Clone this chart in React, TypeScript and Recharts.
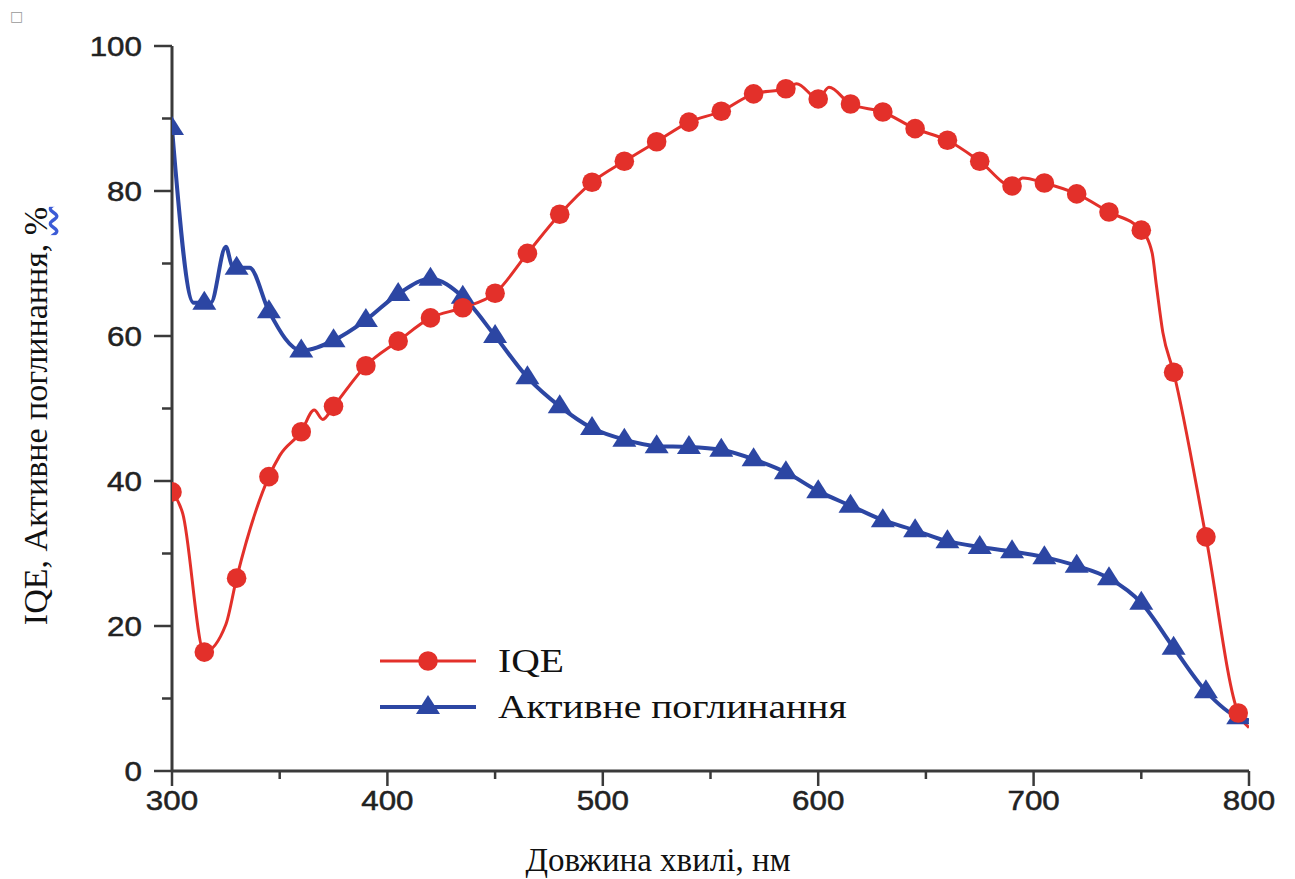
import { LineChart, Line, XAxis, YAxis } from "recharts";

// wavelength of every plotted marker, nm
const wavelengths = [
  300, 315, 330, 345, 360, 375, 390, 405, 420, 435, 450, 465, 480, 495, 510, 525, 540,
  555, 570, 585, 600, 615, 630, 645, 660, 675, 690, 705, 720, 735, 750, 765, 780, 795,
];
const iqeValues = [
  38.5, 16.4, 26.6, 40.6, 46.8, 50.3, 55.9, 59.3, 62.5, 63.9, 65.9, 71.4, 76.8, 81.2, 84.1,
  86.8, 89.5, 91, 93.4, 94.1, 92.7, 92, 90.9, 88.6, 87, 84.1, 80.7, 81.1, 79.6, 77.1, 74.6,
  55, 32.3, 8,
];
const absorptionValues = [
  88.7, 64.6, 69.4, 63.4, 58, 59.4, 62.2, 65.8, 67.9, 65.4, 60, 54.3, 50.3, 47.3, 45.7,
  44.8, 44.7, 44.3, 43, 41.2, 38.6, 36.6, 34.6, 33.2, 31.7, 30.9, 30.3, 29.5, 28.3, 26.6,
  23.2, 17, 11, 7.4,
];

// bends of the curves between markers (no marker drawn there)
const iqeBendX = [305, 325, 350, 366, 370, 590, 605, 695, 755, 757, 760, 800];
const iqeBendY = [35.5, 20.2, 43.5, 49.8, 48.5, 94.8, 94.3, 81.8, 71.5, 67, 60.5, 6];
const absorptionBendX = [310, 318, 325, 328, 336, 800];
const absorptionBendY = [64.6, 64.6, 72.3, 69.6, 69.4, 7];

const xTicks = [300, 350, 400, 450, 500, 550, 600, 650, 700, 750, 800];
const yTicks = [0, 10, 20, 30, 40, 50, 60, 70, 80, 90, 100];

const seriesNames = ["IQE", "Активне поглинання"];

const RED = "#e3302a";
const BLUE = "#2c46a3";
const AXIS = "#3a3a3a";
const SERIF = "'Liberation Serif', 'Times New Roman', serif";

type Pt = { x: number; y: number; marker: boolean };

function buildSeries(mx: number[], my: number[], bx: number[], by: number[]): Pt[] {
  const pts: Pt[] = [
    ...mx.map((x, i) => ({ x, y: my[i], marker: true })),
    ...bx.map((x, i) => ({ x, y: by[i], marker: false })),
  ];
  return pts.sort((a, b) => a.x - b.x);
}

const iqeData = buildSeries(wavelengths, iqeValues, iqeBendX, iqeBendY);
const absorptionData = buildSeries(wavelengths, absorptionValues, absorptionBendX, absorptionBendY);

const tickFont = {
  fontFamily: "'Liberation Sans', Arial, sans-serif",
  fontSize: 28,
  fill: "#222",
  stroke: "#222",
  strokeWidth: 0.5,
};

function XTick(props: any) {
  const { x, y, payload } = props;
  const major = payload.value % 100 === 0;
  return (
    <g>
      <line x1={x} x2={x} y1={y} y2={y + (major ? 15 : 8)} stroke={AXIS} strokeWidth={2.5} />
      {major && (
        <text transform={`translate(${x},${y + 39}) scale(1.12,1)`} textAnchor="middle" {...tickFont}>
          {payload.value}
        </text>
      )}
    </g>
  );
}

function YTick(props: any) {
  const { x, y, payload } = props;
  const major = payload.value % 20 === 0;
  return (
    <g>
      <line x1={x} x2={x - (major ? 18 : 10)} y1={y} y2={y} stroke={AXIS} strokeWidth={2.5} />
      {major && (
        <text transform={`translate(${x - 30},${y + 10}) scale(1.12,1)`} textAnchor="end" {...tickFont}>
          {payload.value}
        </text>
      )}
    </g>
  );
}

function Triangle({ cx, cy, color }: { cx: number; cy: number; color: string }) {
  return <polygon points={`${cx},${cy - 12} ${cx + 12},${cy + 7} ${cx - 12},${cy + 7}`} fill={color} />;
}

function circleDot(props: any) {
  const { cx, cy, payload, index } = props;
  if (!payload.marker) return <g key={`c${index}`} />;
  return <circle key={`c${index}`} cx={cx} cy={cy} r={9.8} fill={RED} />;
}

function triangleDot(props: any) {
  const { cx, cy, payload, index } = props;
  if (!payload.marker) return <g key={`t${index}`} />;
  return (
    <g key={`t${index}`}>
      <Triangle cx={cx} cy={cy} color={BLUE} />
    </g>
  );
}

function LegendBox() {
  const rows = [
    { name: seriesNames[0], color: RED, width: 3, shape: "circle" },
    { name: seriesNames[1], color: BLUE, width: 4, shape: "triangle" },
  ];
  return (
    <div style={{ position: "absolute", left: 380, top: 638 }}>
      {rows.map((r) => (
        <div key={r.name} style={{ display: "flex", alignItems: "center", height: 46 }}>
          <svg width={110} height={30}>
            <line x1={0} x2={96} y1={15} y2={15} stroke={r.color} strokeWidth={r.width} />
            {r.shape === "circle" ? (
              <circle cx={48} cy={15} r={9.8} fill={r.color} />
            ) : (
              <Triangle cx={48} cy={15} color={r.color} />
            )}
          </svg>
          <span
            style={{
              fontFamily: SERIF,
              fontSize: 33,
              color: "#111",
              marginLeft: 8,
              whiteSpace: "nowrap",
              lineHeight: 1,
              display: "inline-block",
              transform: "scaleX(1.2)",
              transformOrigin: "left center",
            }}
          >
            {r.name}
          </span>
        </div>
      ))}
    </div>
  );
}

export default function App() {
  return (
    <div style={{ position: "absolute", left: 0, top: 0, width: 1295, height: 879, background: "#fff" }}>
      <div style={{ position: "absolute", left: 10, top: 8, fontSize: 14, color: "#999", fontFamily: "'DejaVu Sans', sans-serif" }}>
        □
      </div>
      <LineChart width={1295} height={879} margin={{ top: 46, right: 46, left: 72, bottom: 48 }}>
        <XAxis
          dataKey="x"
          type="number"
          domain={[300, 800]}
          ticks={xTicks}
          height={60}
          tickSize={0}
          tickMargin={0}
          tickLine={false}
          tick={<XTick />}
          axisLine={{ stroke: AXIS, strokeWidth: 3 }}
          allowDataOverflow
        />
        <XAxis
          xAxisId="top"
          orientation="top"
          type="number"
          domain={[300, 800]}
          height={0}
          tick={false}
          tickLine={false}
          axisLine={{ stroke: AXIS, strokeWidth: 3 }}
        />
        <YAxis
          type="number"
          domain={[0, 100]}
          ticks={yTicks}
          width={100}
          tickSize={0}
          tickMargin={0}
          tickLine={false}
          tick={<YTick />}
          axisLine={{ stroke: AXIS, strokeWidth: 3 }}
          allowDataOverflow
        />
        <YAxis
          yAxisId="right"
          orientation="right"
          type="number"
          domain={[0, 100]}
          width={0}
          tick={false}
          tickLine={false}
          axisLine={{ stroke: AXIS, strokeWidth: 3 }}
        />
        <Line
          data={absorptionData}
          dataKey="y"
          name={seriesNames[1]}
          type="monotone"
          stroke={BLUE}
          strokeWidth={4}
          dot={triangleDot}
          activeDot={false}
          isAnimationActive={false}
        />
        <Line
          data={iqeData}
          dataKey="y"
          name={seriesNames[0]}
          type="monotone"
          stroke={RED}
          strokeWidth={3}
          dot={circleDot}
          activeDot={false}
          isAnimationActive={false}
        />
      </LineChart>
      <LegendBox />
      <div
        style={{
          position: "absolute",
          left: 36,
          top: 416,
          transform: "translate(-50%, -50%) rotate(-90deg)",
          fontFamily: SERIF,
          fontSize: 34,
          color: "#111",
          whiteSpace: "nowrap",
          lineHeight: 1,
        }}
      >
        IQE, Активне поглинання,{" "}
        <span style={{ textDecoration: "underline wavy #3b5bd6" }}>%</span>
      </div>
      <div
        style={{
          position: "absolute",
          left: 658,
          top: 860,
          transform: "translate(-50%, -50%)",
          fontFamily: SERIF,
          fontSize: 33,
          color: "#111",
          whiteSpace: "nowrap",
          lineHeight: 1,
        }}
      >
        Довжина хвилі, нм
      </div>
    </div>
  );
}
